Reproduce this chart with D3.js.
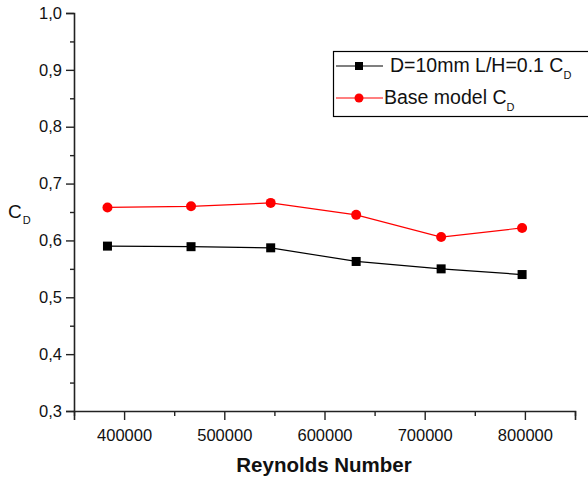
<!DOCTYPE html>
<html><head><meta charset="utf-8">
<script src="https://cdn.jsdelivr.net/npm/d3@7/dist/d3.min.js"></script>
<style>body{margin:0;background:#fff}svg{display:block;font-family:"Liberation Sans",Arial,sans-serif}</style>
</head><body>
<script>
const reynolds = [383400, 466800, 546300, 631600, 716400, 797200];
const cdModel = [0.590, 0.589, 0.587, 0.563, 0.550, 0.540];
const cdBase = [0.658, 0.660, 0.666, 0.645, 0.606, 0.622];
const xTicks = [400000, 500000, 600000, 700000, 800000];
const xMinor = [350000, 450000, 550000, 650000, 750000, 850000];
const yTicks = [0.3, 0.4, 0.5, 0.6, 0.7, 0.8, 0.9, 1.0];
const yMinor = [0.35, 0.45, 0.55, 0.65, 0.75, 0.85, 0.95];

const W = 588, H = 479;
const svg = d3.select("body").append("svg").attr("width", W).attr("height", H);
const x = d3.scaleLinear().domain([350000, 850000]).range([74, 575]);
const y = d3.scaleLinear().domain([0.3, 1.0]).range([411, 13]);
const fmt = d => d.toFixed(1).replace(".", ",");

// y axis
svg.append("g").attr("transform", "translate(74,0)")
  .call(d3.axisLeft(y).tickValues(yTicks).tickFormat(fmt).tickSize(8).tickPadding(4));
svg.append("g").attr("transform", "translate(74,0)")
  .call(d3.axisLeft(y).tickValues(yMinor).tickFormat("").tickSize(4))
  .select(".domain").remove();
// x axis
svg.append("g").attr("transform", "translate(0,411)")
  .call(d3.axisBottom(x).tickValues(xTicks).tickFormat(d3.format("d")).tickSize(9).tickPadding(9));
svg.append("g").attr("transform", "translate(0,411)")
  .call(d3.axisBottom(x).tickValues(xMinor).tickFormat("").tickSize(5))
  .select(".domain").remove();
svg.selectAll(".domain").attr("stroke", "#222").attr("stroke-width", 1.6);
svg.selectAll(".tick line").attr("stroke", "#222").attr("stroke-width", 1.4);
svg.selectAll(".tick text").attr("font-size", 16.5).attr("fill", "#111")
  .attr("font-family", "Liberation Sans, Arial, sans-serif");

// axis titles
svg.append("text").attr("x", 324).attr("y", 472).attr("text-anchor", "middle")
  .attr("font-size", 20.5).attr("font-weight", "bold").attr("fill", "#111").text("Reynolds Number");
const yl = svg.append("text").attr("x", 8).attr("y", 218).attr("font-size", 19).attr("fill", "#111");
yl.append("tspan").text("C");
yl.append("tspan").attr("font-size", 11).attr("dy", 6).attr("dx", 1).text("D");

// lines
const line = d3.line().x(d => x(d[0])).y(d => y(d[1]));
const modelPts = reynolds.map((r, i) => [r, cdModel[i]]);
const basePts = reynolds.map((r, i) => [r, cdBase[i]]);
svg.append("path").datum(basePts).attr("d", line).attr("fill", "none").attr("stroke", "#ff0000").attr("stroke-width", 1.2);
svg.append("path").datum(modelPts).attr("d", line).attr("fill", "none").attr("stroke", "#000").attr("stroke-width", 1.2);
svg.selectAll(".sq").data(modelPts).enter().append("rect")
  .attr("x", d => x(d[0]) - 4.5).attr("y", d => y(d[1]) - 4.5).attr("width", 9).attr("height", 9).attr("fill", "#000");
svg.selectAll(".ci").data(basePts).enter().append("circle")
  .attr("cx", d => x(d[0])).attr("cy", d => y(d[1])).attr("r", 5).attr("fill", "#ff0000");

// legend
svg.append("rect").attr("x", 333.5).attr("y", 51.5).attr("width", 270).attr("height", 65)
  .attr("fill", "#fff").attr("stroke", "#000").attr("stroke-width", 1.2);
svg.append("line").attr("x1", 336).attr("x2", 383).attr("y1", 66).attr("y2", 66).attr("stroke", "#000").attr("stroke-width", 1.2);
svg.append("rect").attr("x", 359 - 4).attr("y", 66 - 4).attr("width", 8).attr("height", 8).attr("fill", "#000");
svg.append("line").attr("x1", 336).attr("x2", 383).attr("y1", 98).attr("y2", 98).attr("stroke", "#ff0000").attr("stroke-width", 1.2);
svg.append("circle").attr("cx", 359).attr("cy", 98).attr("r", 4.5).attr("fill", "#ff0000");
const t1 = svg.append("text").attr("x", 390).attr("y", 72).attr("font-size", 19.5).attr("fill", "#111");
t1.append("tspan").text("D=10mm L/H=0.1 C");
t1.append("tspan").attr("font-size", 11).attr("dy", 7).text("D");
const t2 = svg.append("text").attr("x", 384).attr("y", 104).attr("font-size", 19.5).attr("fill", "#111");
t2.append("tspan").text("Base model C");
t2.append("tspan").attr("font-size", 11).attr("dy", 7).text("D");
</script>
</body></html>
